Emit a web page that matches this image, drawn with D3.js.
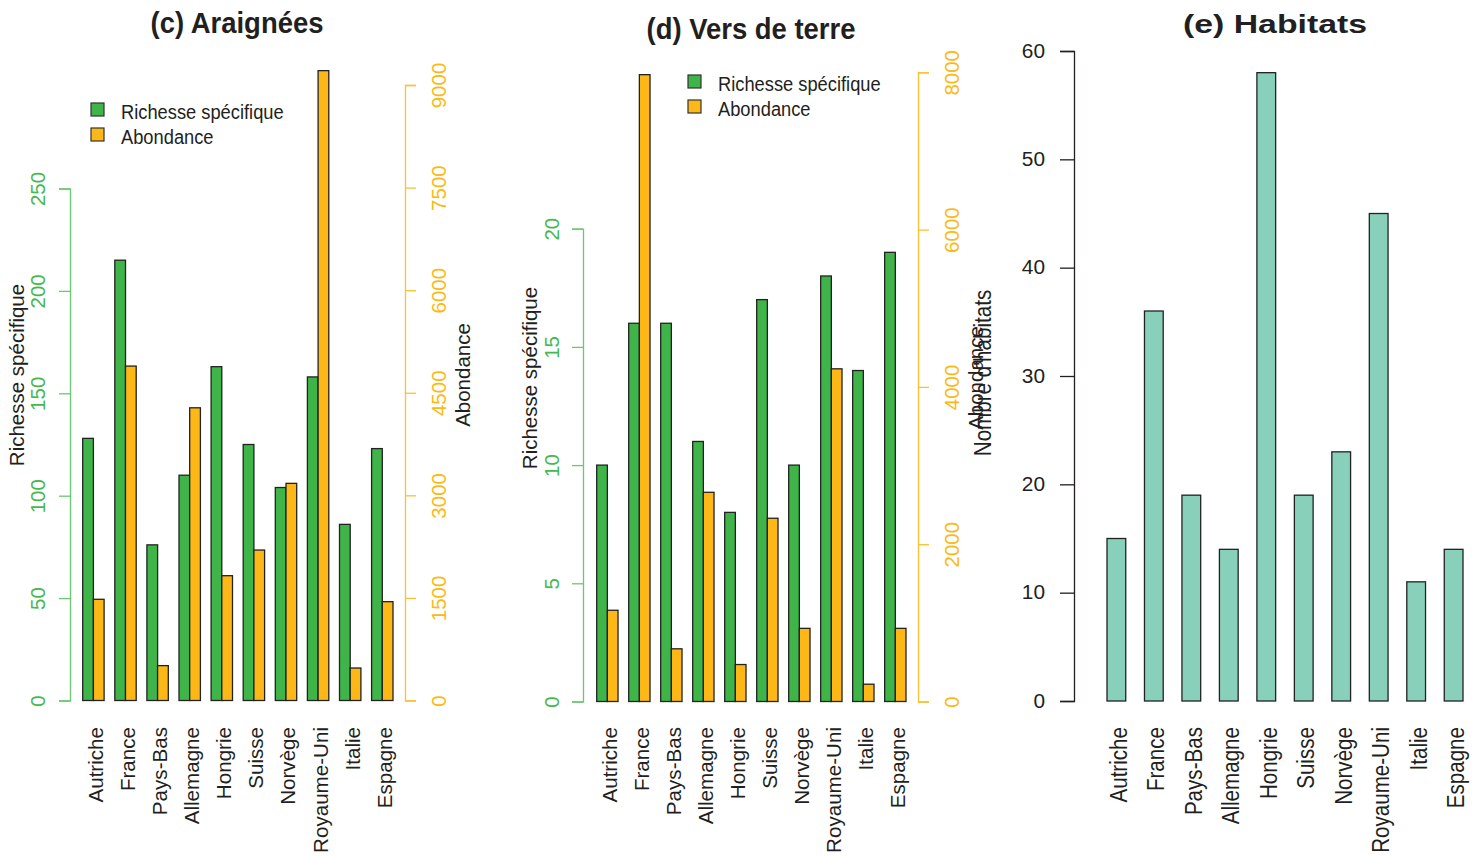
<!DOCTYPE html>
<html>
<head>
<meta charset="utf-8">
<script src="https://cdn.jsdelivr.net/npm/d3@7"></script>
<style>
  body { margin: 0; background: #fff; }
  svg text { font-family: "Liberation Sans", Arial, sans-serif; fill: #231f20; }
</style>
</head>
<body>
<svg id="chart" width="1479" height="857"></svg>
<script>
// Country list shared by the three panels
var countries = ["Autriche", "France", "Pays-Bas", "Allemagne", "Hongrie",
                 "Suisse", "Norvège", "Royaume-Uni", "Italie", "Espagne"];
var seriesNames = ["Richesse spécifique", "Abondance"];

// (c) spiders
var spiderRichness = [128, 215, 76, 110, 163, 125, 104, 158, 86, 123];
var spiderAbundance = [1480, 4890, 510, 4280, 1825, 2200, 3175, 9210, 475, 1445];
var spiderRichTicks = [0, 50, 100, 150, 200, 250];
var spiderAbTicks = [0, 1500, 3000, 4500, 6000, 7500, 9000];

// (d) earthworms
var wormRichness = [10, 16, 16, 11, 8, 17, 10, 18, 14, 19];
var wormAbundance = [1160, 7970, 670, 2660, 470, 2330, 930, 4230, 220, 930];
var wormRichTicks = [0, 5, 10, 15, 20];
var wormAbTicks = [0, 2000, 4000, 6000, 8000];

// (e) habitats
var habitats = [15, 36, 19, 14, 58, 19, 23, 45, 11, 14];
var habitatTicks = [0, 10, 20, 30, 40, 50, 60];

var GREEN = "#3fb549", ORANGE = "#fdb817", TEAL = "#88d0b9";
var GREEN_AX = "#6cc772", ORANGE_AX = "#fdbf33";
var GREEN_TXT = "#45b84f", ORANGE_TXT = "#fdb913";
// the source picture was put together from differently stretched pieces:
// horizontal text in (c)/(d) is squeezed, text in (e) is widened
var SQ = 0.915, WIDE = 1.3;

var svg = d3.select("#chart");

function hText(g, x, y, str, anchor, size, weight, sx) {
    return g.append("text")
        .attr("transform", "translate(" + x + "," + y + ") scale(" + sx + ",1)")
        .attr("text-anchor", anchor)
        .style("font-size", size + "px")
        .style("font-weight", weight || "normal")
        .text(str);
}

function vText(g, x, y, str, anchor, size, sx) {
    return g.append("text")
        .attr("transform", "translate(" + x + "," + y + ") scale(" + (sx || 1) + ",1) rotate(-90)")
        .attr("text-anchor", anchor)
        .attr("dy", "0.36em")
        .style("font-size", size + "px")
        .text(str);
}

// y axis whose labels run along the axis, R style
function sideAxis(g, x, scale, ticks, side, lineCol, txtCol, off) {
    var axis = (side === "left" ? d3.axisLeft(scale) : d3.axisRight(scale))
        .tickValues(ticks).tickFormat(d3.format("d")).tickSizeOuter(0).tickSize(11);
    var a = g.append("g").attr("transform", "translate(" + x + ",0)").call(axis);
    a.select(".domain").attr("stroke", lineCol).attr("stroke-width", 1.3);
    a.selectAll(".tick line").attr("stroke", lineCol).attr("stroke-width", 1.3);
    a.selectAll(".tick text")
        .attr("x", null).attr("y", null).attr("dy", "0.36em")
        .attr("text-anchor", "middle")
        .attr("transform", "translate(" + (side === "left" ? -off : off) + ",0) rotate(-90)")
        .style("font-size", "20.5px")
        .style("fill", txtCol);
}

function countryLabels(g, x, sx) {
    countries.forEach(function (c) {
        vText(g, x(c) + x.bandwidth() / 2 + 2, 727, c, "end", 20.6, sx);
    });
}

function legend(g, x, y) {
    [GREEN, ORANGE].forEach(function (col, i) {
        g.append("rect")
            .attr("x", x).attr("y", y + i * 25)
            .attr("width", 13).attr("height", 13)
            .attr("fill", col).attr("stroke", "#333").attr("stroke-width", 1.2);
        hText(g, x + 30, y + i * 25 + 16, seriesNames[i], "start", 20, "normal", SQ);
    });
}

// Two-series panel with its own left and right axis
function pairPanel(p) {
    var g = svg.append("g");
    var x = d3.scaleBand().domain(countries).range(p.xRange)
        .paddingInner(1 / 3).paddingOuter(0);
    var inner = d3.scaleBand().domain([0, 1]).range([0, x.bandwidth()]);
    var yL = d3.scaleLinear().domain([0, p.leftMax]).range([p.base, p.leftTop]);
    var yR = d3.scaleLinear().domain([0, p.rightMax]).range([p.base, p.rightTop]);

    var rows = countries.map(function (c, i) {
        return [{ c: c, s: 0, v: p.rich[i] }, { c: c, s: 1, v: p.ab[i] }];
    });
    g.selectAll("g.grp").data(rows).enter().append("g")
        .attr("class", "grp")
        .attr("transform", function (d) { return "translate(" + x(d[0].c) + ",0)"; })
        .selectAll("rect").data(function (d) { return d; }).enter().append("rect")
        .attr("x", function (d) { return inner(d.s); })
        .attr("width", inner.bandwidth())
        .attr("y", function (d) { return d.s ? yR(d.v) : yL(d.v); })
        .attr("height", function (d) { return p.base - (d.s ? yR(d.v) : yL(d.v)); })
        .attr("fill", function (d) { return d.s ? ORANGE : GREEN; })
        .attr("stroke", "#222").attr("stroke-width", 1.3);

    sideAxis(g, p.leftX, yL, p.leftTicks, "left", GREEN_AX, GREEN_TXT, p.leftOff);
    sideAxis(g, p.rightX, yR, p.rightTicks, "right", ORANGE_AX, ORANGE_TXT, p.rightOff);

    countryLabels(g, x, 1);
    hText(g, p.titleX, p.titleY, p.title, "middle", 30, "bold", SQ);
    vText(g, p.leftLabX, p.labY, "Richesse spécifique", "middle", 20.5);
    vText(g, p.rightLabX, p.labY, "Abondance", "middle", 20.5);
    legend(g, p.legX, p.legY);
}

pairPanel({
    title: "(c) Araignées", titleX: 237, titleY: 33,
    rich: spiderRichness, ab: spiderAbundance,
    xRange: [82.7, 393],
    base: 700.5, leftMax: 250, leftTop: 188.5, rightMax: 9000, rightTop: 85,
    leftTicks: spiderRichTicks, rightTicks: spiderAbTicks,
    leftX: 70, rightX: 405, leftOff: 32, rightOff: 34,
    leftLabX: 17, rightLabX: 463, labY: 375,
    legX: 91, legY: 103
});

pairPanel({
    title: "(d) Vers de terre", titleX: 751, titleY: 39,
    rich: wormRichness, ab: wormAbundance,
    xRange: [596.7, 906],
    base: 701.5, leftMax: 20, leftTop: 228.7, rightMax: 8000, rightTop: 72.3,
    leftTicks: wormRichTicks, rightTicks: wormAbTicks,
    leftX: 583, rightX: 918, leftOff: 31.5, rightOff: 34,
    leftLabX: 530, rightLabX: 976, labY: 378,
    legX: 688, legY: 75
});

// (e) single series
(function () {
    var g = svg.append("g");
    var x = d3.scaleBand().domain(countries).range([1107, 1463])
        .paddingInner(0.5).paddingOuter(0);
    var y = d3.scaleLinear().domain([0, 60]).range([701, 51]);

    g.selectAll("rect").data(habitats).enter().append("rect")
        .attr("x", function (d, i) { return x(countries[i]); })
        .attr("width", x.bandwidth())
        .attr("y", function (d) { return y(d); })
        .attr("height", function (d) { return 701 - y(d); })
        .attr("fill", TEAL).attr("stroke", "#222").attr("stroke-width", 1.3);

    var tsx = 1.07;
    var a = g.append("g").attr("transform", "translate(1074,0)")
        .call(d3.axisLeft(y).tickValues(habitatTicks).tickSizeOuter(0).tickSize(14));
    a.select(".domain").attr("stroke", "#231f20").attr("stroke-width", 1.3);
    a.selectAll(".tick line").attr("stroke", "#231f20").attr("stroke-width", 1.3);
    a.selectAll(".tick text").style("font-size", "19.5px").style("fill", "#231f20")
        .attr("transform", "scale(" + tsx + ",1)")
        .attr("x", -29 / tsx);

    countryLabels(g, x, 1.15);
    hText(g, 1275, 33, "(e) Habitats", "middle", 26, "bold", WIDE);
    vText(g, 982, 373, "Nombre d'habitats", "middle", 20.6, 1.15);
})();
</script>
</body>
</html>
